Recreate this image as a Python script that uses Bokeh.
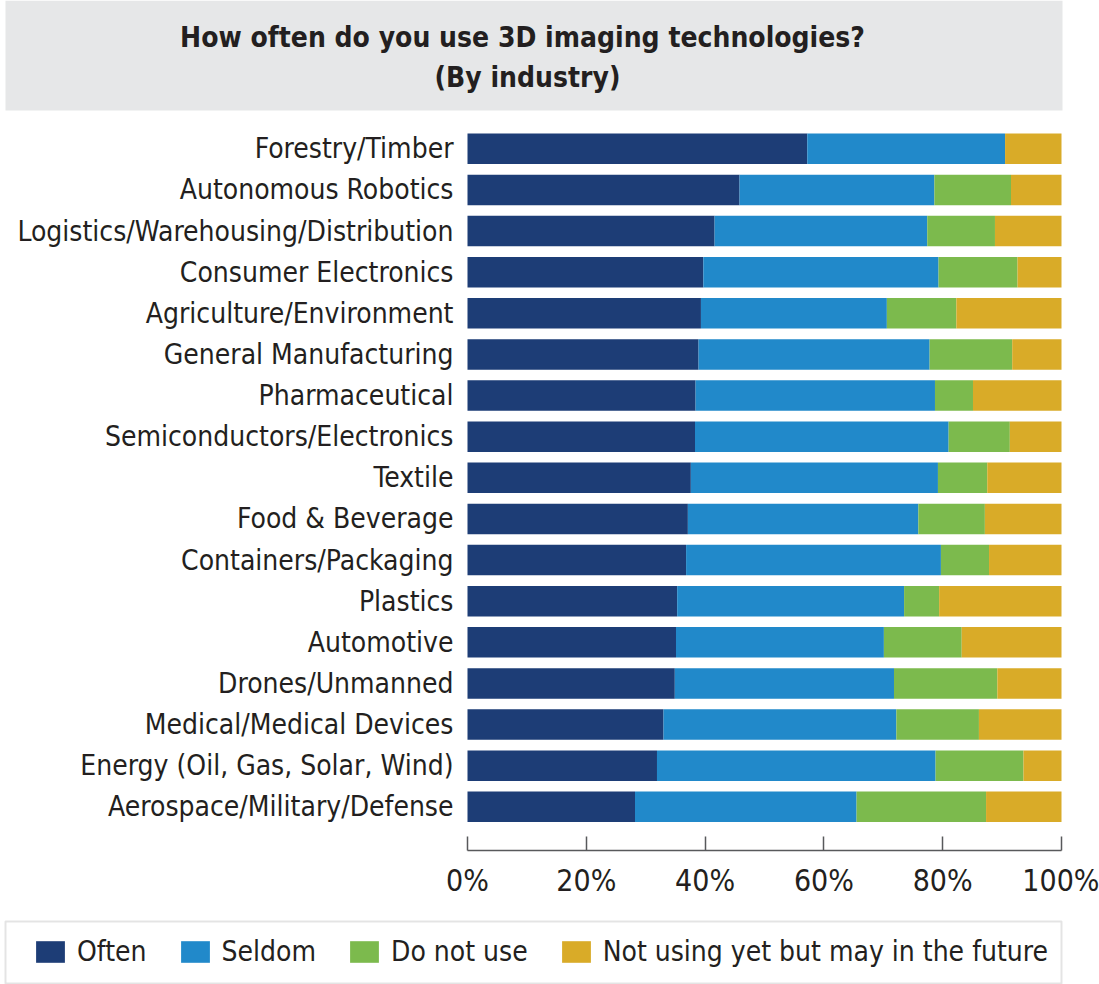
from bokeh.plotting import figure
from bokeh.models import (ColumnDataSource, Range1d, FixedTicker, Legend, LegendItem,
                          PrintfTickFormatter, BoxAnnotation)
from bokeh.embed import file_html
from bokeh.resources import INLINE
from bokeh.core.properties import value

# ---------------- data ----------------
categories = [
    "Forestry/Timber", "Autonomous Robotics", "Logistics/Warehousing/Distribution",
    "Consumer Electronics", "Agriculture/Environment", "General Manufacturing",
    "Pharmaceutical", "Semiconductors/Electronics", "Textile", "Food & Beverage",
    "Containers/Packaging", "Plastics", "Automotive", "Drones/Unmanned",
    "Medical/Medical Devices", "Energy (Oil, Gas, Solar, Wind)", "Aerospace/Military/Defense",
]
often = [57.2, 45.8, 41.6, 39.7, 39.3, 38.9, 38.4, 38.3, 37.6, 37.1, 36.8, 35.3, 35.1, 34.9, 33.0, 31.9, 28.2]
seldom = [33.3, 32.8, 35.8, 39.6, 31.3, 38.9, 40.3, 42.7, 41.6, 38.8, 42.9, 38.2, 35.0, 36.9, 39.2, 46.9, 37.3]
do_not_use = [0.0, 12.9, 11.4, 13.3, 11.7, 13.9, 6.4, 10.3, 8.3, 11.2, 8.1, 5.9, 13.1, 17.4, 13.9, 14.8, 21.8]
future = [9.5, 8.5, 11.2, 7.4, 17.7, 8.3, 14.9, 8.7, 12.5, 12.9, 12.2, 20.6, 16.8, 10.8, 13.9, 6.4, 12.7]
series_names = ["Often", "Seldom", "Do not use", "Not using yet but may in the future"]
series_keys = ["often", "seldom", "do_not_use", "future"]
colors = ["#1d3d76", "#2189ca", "#7cba4d", "#d9ab28"]
x_ticks = [0, 20, 40, 60, 80, 100]
title_lines = ["How often do you use 3D imaging technologies?", "(By industry)"]

FONT = "DejaVu Sans Condensed"
TXT = "#231f20"

# ---------------- layout geometry (canvas pixels) ----------------
W, H = 1099, 984
X0_PX, X100_PX = 467, 1061          # 0% and 100% positions
TOP_ROW_PX, BOTTOM_ROW_PX = 148.3, 806.3
AXIS_PX = 850

n = len(categories)
ypos = [n - 1 - i for i in range(n)]
px_per_x = (X100_PX - X0_PX) / 100.0
px_per_row = (BOTTOM_ROW_PX - TOP_ROW_PX) / (n - 1)


def xd(px):
    return (px - X0_PX) / px_per_x


def yd(py):
    return (BOTTOM_ROW_PX - py) / px_per_row


src = ColumnDataSource(dict(y=ypos, often=often, seldom=seldom, do_not_use=do_not_use, future=future))

p = figure(width=W, height=H, x_range=Range1d(xd(0), xd(W)), y_range=Range1d(yd(H), yd(0)),
           output_backend="svg", toolbar_location=None,
           min_border_left=0, min_border_right=0, min_border_top=0, min_border_bottom=0,
           outline_line_color=None)

# title box + title text
p.add_layout(BoxAnnotation(left=xd(5), right=xd(1062), top=yd(0), bottom=yd(110),
                           fill_color="#e6e7e8", fill_alpha=1.0, line_color=None,
                           level="underlay"))
p.text(x=[xd(522), xd(527)], y=[yd(37), yd(77)], text=title_lines,
       text_font=value(FONT), text_font_size="28px", text_font_style="bold",
       text_align="center", text_baseline="middle", text_color=TXT)

# bars
rs = p.hbar_stack(series_keys, y="y", height=0.74, fill_color=colors, line_color=None, source=src)

p.xgrid.visible = False
p.ygrid.visible = False

# x axis drawn at a fixed location below the bars
p.xaxis.fixed_location = yd(AXIS_PX)
p.xaxis.bounds = (0, 100)
p.xaxis.ticker = FixedTicker(ticks=x_ticks)
p.xaxis.formatter = PrintfTickFormatter(format="%d%%")
p.xaxis.major_tick_in = 14
p.xaxis.major_tick_out = 0
p.xaxis.minor_tick_line_color = None
p.xaxis.axis_line_color = "#58595b"
p.xaxis.axis_line_width = 1.5
p.xaxis.major_tick_line_color = "#58595b"
p.xaxis.major_tick_line_width = 1.5
p.xaxis.major_label_text_font = FONT
p.xaxis.major_label_text_font_size = "30px"
p.xaxis.major_label_text_color = TXT
p.xaxis.major_label_standoff = 12

# y axis (category labels) at x = 0
p.yaxis.fixed_location = 0
p.yaxis.ticker = FixedTicker(ticks=ypos)
p.yaxis.major_label_overrides = {y: c for y, c in zip(ypos, categories)}
p.yaxis.major_tick_line_color = None
p.yaxis.minor_tick_line_color = None
p.yaxis.axis_line_color = None
p.yaxis.major_label_text_font = FONT
p.yaxis.major_label_text_font_size = "28px"
p.yaxis.major_label_text_color = TXT
p.yaxis.major_label_standoff = 8

# legend box + legend
p.add_layout(BoxAnnotation(left=xd(5), right=xd(1061), top=yd(921), bottom=yd(983),
                           fill_alpha=0, line_color="#a6a6a6", line_width=2))
items = [LegendItem(label=name, renderers=[r]) for name, r in zip(series_names, rs)]
legend = Legend(items=items, orientation="horizontal", location=(32, 16),
                padding=0, margin=0, spacing=30, glyph_width=36, glyph_height=27,
                label_standoff=9, label_text_font=FONT, label_text_font_size="28px",
                label_text_color=TXT, border_line_color=None, background_fill_alpha=0)
p.add_layout(legend)

open("out.html", "w").write(file_html(p, INLINE))
